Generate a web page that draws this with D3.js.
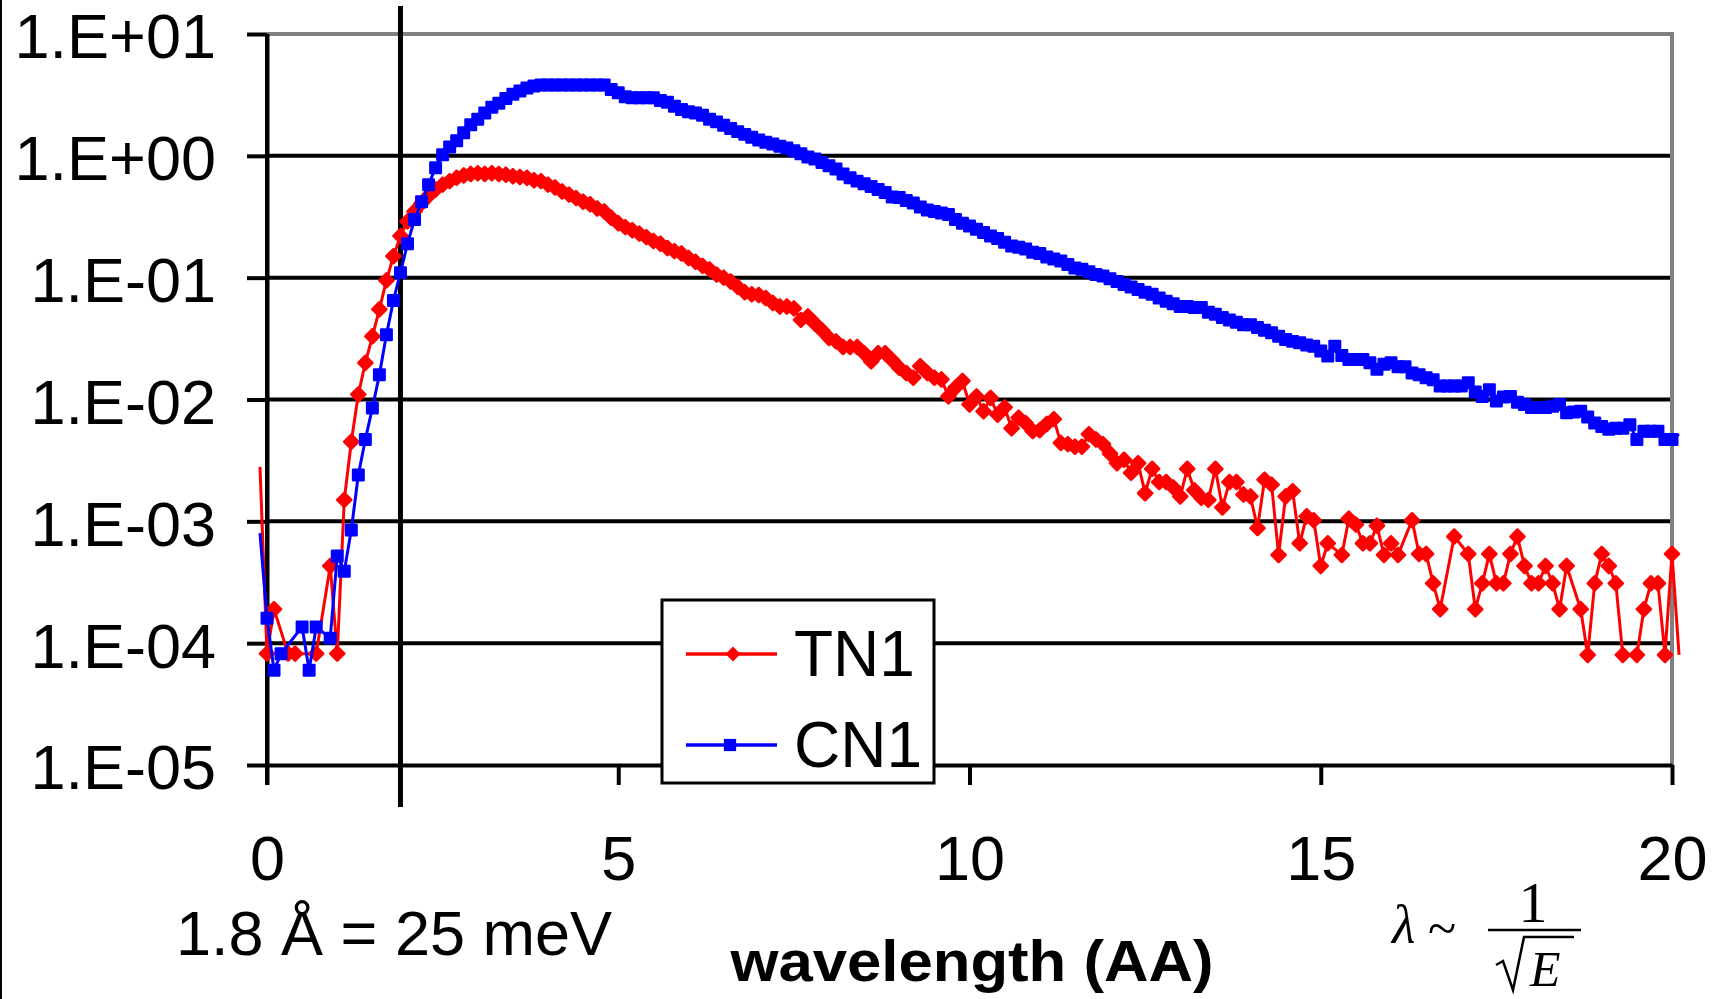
<!DOCTYPE html>
<html>
<head>
<meta charset="utf-8">
<script src="https://cdn.jsdelivr.net/npm/d3@7/dist/d3.min.js"></script>
<style>
    body { margin: 0; background: #fff; }
    svg text { font-family: "Liberation Sans", Arial, sans-serif; fill: #000; }
    .axis path, .axis line { stroke: #000; stroke-width: 4px; }
    .axis text { font-size: 63px; font-family: "Liberation Sans", Arial, sans-serif; fill: #000; }
</style>
</head>
<body>
<div class="spectrum"></div>
<script>
// wavelength bins in angstrom (one bin every 0.1)
var wavelength = [
    -0.1,
    0.0, 0.1, 0.2, 0.3, 0.4, 0.5, 0.6, 0.7, 0.8, 0.9,
    1.0, 1.1, 1.2, 1.3, 1.4, 1.5, 1.6, 1.7, 1.8, 1.9,
    2.0, 2.1, 2.2, 2.3, 2.4, 2.5, 2.6, 2.7, 2.8, 2.9,
    3.0, 3.1, 3.2, 3.3, 3.4, 3.5, 3.6, 3.7, 3.8, 3.9,
    4.0, 4.1, 4.2, 4.3, 4.4, 4.5, 4.6, 4.7, 4.8, 4.9,
    5.0, 5.1, 5.2, 5.3, 5.4, 5.5, 5.6, 5.7, 5.8, 5.9,
    6.0, 6.1, 6.2, 6.3, 6.4, 6.5, 6.6, 6.7, 6.8, 6.9,
    7.0, 7.1, 7.2, 7.3, 7.4, 7.5, 7.6, 7.7, 7.8, 7.9,
    8.0, 8.1, 8.2, 8.3, 8.4, 8.5, 8.6, 8.7, 8.8, 8.9,
    9.0, 9.1, 9.2, 9.3, 9.4, 9.5, 9.6, 9.7, 9.8, 9.9,
    10.0, 10.1, 10.2, 10.3, 10.4, 10.5, 10.6, 10.7, 10.8, 10.9,
    11.0, 11.1, 11.2, 11.3, 11.4, 11.5, 11.6, 11.7, 11.8, 11.9,
    12.0, 12.1, 12.2, 12.3, 12.4, 12.5, 12.6, 12.7, 12.8, 12.9,
    13.0, 13.1, 13.2, 13.3, 13.4, 13.5, 13.6, 13.7, 13.8, 13.9,
    14.0, 14.1, 14.2, 14.3, 14.4, 14.5, 14.6, 14.7, 14.8, 14.9,
    15.0, 15.1, 15.2, 15.3, 15.4, 15.5, 15.6, 15.7, 15.8, 15.9,
    16.0, 16.1, 16.2, 16.3, 16.4, 16.5, 16.6, 16.7, 16.8, 16.9,
    17.0, 17.1, 17.2, 17.3, 17.4, 17.5, 17.6, 17.7, 17.8, 17.9,
    18.0, 18.1, 18.2, 18.3, 18.4, 18.5, 18.6, 18.7, 18.8, 18.9,
    19.0, 19.1, 19.2, 19.3, 19.4, 19.5, 19.6, 19.7, 19.8, 19.9,
    20.0, 20.1
];

// null = empty bin (cannot be shown on a log axis, the line just jumps over it)
var tn1 = [
    2.8e-3,
    8.2e-5, 1.9e-4, null, 8.2e-5, 8.2e-5, null, null, 8.2e-5, null, 4.3e-4,
    8.2e-5, 1.5e-3, 4.5e-3, 1.1e-2, 2.0e-2, 3.3e-2, 5.5e-2, 9.5e-2, 0.15, 0.22,
    0.29, 0.35, 0.41, 0.47, 0.53, 0.58, 0.62, 0.66, 0.69, 0.71,
    0.72, 0.71, 0.72, 0.71, 0.70, 0.68, 0.67, 0.66, 0.63, 0.62,
    0.58, 0.55, 0.51, 0.48, 0.45, 0.42, 0.40, 0.37, 0.35, 0.31,
    0.28, 0.26, 0.245, 0.23, 0.215, 0.20, 0.19, 0.175, 0.165, 0.158,
    0.145, 0.135, 0.125, 0.117, 0.106, 0.100, 0.093, 0.084, 0.076, 0.073,
    0.072, 0.068, 0.062, 0.058, 0.058, 0.056, 0.045, 0.048, 0.042, 0.037,
    0.032, 0.030, 0.027, 0.027, 0.027, 0.024, 0.0206, 0.024, 0.024, 0.021,
    0.0182, 0.0165, 0.0151, 0.0188, 0.0165, 0.0151, 0.0146, 0.0106, 0.0125, 0.0142,
    0.0091, 0.0106, 0.0080, 0.0103, 0.0075, 0.0086, 0.0058, 0.0071, 0.0064, 0.0055,
    0.0056, 0.0063, 0.0069, 0.0044, 0.0043, 0.0041, 0.0041, 0.0052, 0.0047, 0.0043,
    0.0036, 0.0030, 0.0032, 0.0025, 0.0030, 0.0017, 0.0027, 0.0021, 0.0021, 0.0019,
    0.0016, 0.0027, 0.0018, 0.00156, 0.0015, 0.0027, 0.0013, 0.0021, 0.0021, 0.00166,
    0.0016, 0.00088, 0.0022, 0.0020, 0.00053, 0.0016, 0.00177, 0.00066, 0.0011, 0.00102,
    0.00043, 0.00066, null, 0.00053, 0.00105, 0.00094, 0.00066, 0.00066, 0.00092, 0.00053,
    0.00066, 0.00053, null, 0.00102, 0.00054, 0.00054, 0.00031, 0.00019, null, 0.00075,
    null, 0.00054, 0.00019, 0.00031, 0.00054, 0.00031, 0.00031, 0.00054, 0.00075, 0.00043,
    0.00031, 0.00031, 0.00043, 0.00031, 0.00019, 0.00043, null, 0.00019, 8.0e-5, 0.00031,
    0.00054, 0.00043, 0.00031, 8.0e-5, null, 8.0e-5, 0.00019, 0.00031, 0.00031, 8.0e-5,
    0.00054, 8.0e-5
];

var cn1 = [
    8.0e-4,
    1.6e-4, 6.0e-5, 8.2e-5, null, null, 1.36e-4, 6.0e-5, 1.36e-4, null, 1.1e-4,
    5.2e-4, 3.9e-4, 8.5e-4, 2.4e-3, 4.7e-3, 8.5e-3, 1.6e-2, 3.4e-2, 6.5e-2, 0.11,
    0.19, 0.30, 0.42, 0.58, 0.80, 1.02, 1.18, 1.33, 1.55, 1.80,
    2.00, 2.25, 2.50, 2.70, 2.95, 3.20, 3.40, 3.60, 3.75, 3.81,
    3.81, 3.81, 3.81, 3.81, 3.81, 3.81, 3.81, 3.81, 3.81, 3.50,
    3.30, 3.05, 3.00, 3.00, 3.00, 3.00, 2.85, 2.75, 2.55, 2.40,
    2.30, 2.25, 2.15, 2.00, 1.90, 1.78, 1.68, 1.58, 1.50, 1.42,
    1.35, 1.29, 1.25, 1.20, 1.16, 1.10, 1.04, 0.98, 0.94, 0.88,
    0.83, 0.78, 0.71, 0.66, 0.62, 0.59, 0.56, 0.53, 0.50, 0.46,
    0.455, 0.43, 0.41, 0.38, 0.36, 0.35, 0.34, 0.33, 0.30, 0.28,
    0.265, 0.25, 0.235, 0.22, 0.21, 0.195, 0.182, 0.178, 0.172, 0.162,
    0.158, 0.148, 0.142, 0.137, 0.128, 0.120, 0.117, 0.112, 0.106, 0.103,
    0.098, 0.093, 0.088, 0.084, 0.080, 0.076, 0.073, 0.068, 0.064, 0.061,
    0.058, 0.058, 0.057, 0.057, 0.052, 0.050, 0.047, 0.045, 0.043, 0.041,
    0.041, 0.039, 0.037, 0.0353, 0.033, 0.0311, 0.030, 0.0292, 0.028, 0.0274,
    0.025, 0.0227, 0.0274, 0.023, 0.0213, 0.0213, 0.0213, 0.020, 0.0177, 0.0195,
    0.020, 0.0186, 0.0186, 0.0165, 0.016, 0.0151, 0.0145, 0.0129, 0.0129, 0.0129,
    0.0129, 0.0137, 0.0115, 0.0106, 0.012, 0.0097, 0.0105, 0.0106, 0.0095, 0.0091,
    0.0086, 0.0086, 0.0086, 0.0088, 0.0091, 0.0078, 0.0079, 0.0080, 0.0072, 0.0064,
    0.0060, 0.0057, 0.0058, 0.0058, 0.0062, 0.0047, 0.0055, 0.0055, 0.0055, 0.0047,
    0.0047, 0.0052
];

var seriesNames = ["TN1", "CN1"];
var seriesColors = ["#ff0000", "#0000ff"];
var xTicks = [0, 5, 10, 15, 20];
var yTicks = [1e-5, 1e-4, 1e-3, 1e-2, 1e-1, 1e0, 1e1];
var yTickLabels = ["1.E-05", "1.E-04", "1.E-03", "1.E-02", "1.E-01", "1.E+00", "1.E+01"];
var refWavelength = 1.9;
var refLabel = "1.8 \u00C5 = 25 meV";
var xTitle = "wavelength (AA)";

var width = 1723, height = 999;
var plot = {left: 267, right: 1672, top: 34, bottom: 765};

var svg = d3.select("div.spectrum").append("svg")
    .attr("width", width)
    .attr("height", height);

svg.append("rect").attr("width", width).attr("height", height).attr("fill", "#fff");
// thin dark edge on the left of the original picture
svg.append("rect").attr("x", 0).attr("y", 0).attr("width", 2).attr("height", height).attr("fill", "#000");

var x = d3.scaleLinear().domain([0, 20]).range([plot.left, plot.right]);
var y = d3.scaleLog().domain([1e-5, 10]).range([plot.bottom, plot.top]);

// horizontal gridlines (the top one is the grey frame)
svg.append("g").selectAll("line.grid")
    .data(yTicks.slice(1, -1))
    .enter().append("line")
    .attr("class", "grid")
    .attr("x1", plot.left).attr("x2", plot.right)
    .attr("y1", d => y(d)).attr("y2", d => y(d))
    .attr("stroke", "#000").attr("stroke-width", 4);

svg.append("path")
    .attr("d", "M" + plot.left + "," + y(10) + "H" + plot.right + "V" + plot.bottom)
    .attr("fill", "none").attr("stroke", "#808080").attr("stroke-width", 4);

svg.append("g")
    .attr("class", "axis x")
    .attr("transform", "translate(0," + plot.bottom + ")")
    .call(d3.axisBottom(x).tickValues(xTicks).tickSize(20).tickSizeOuter(0).tickPadding(50));

svg.append("g")
    .attr("class", "axis y")
    .attr("transform", "translate(" + plot.left + ",0)")
    .call(d3.axisLeft(y).tickValues(yTicks).tickFormat((d, i) => yTickLabels[i])
        .tickSize(20).tickSizeOuter(0).tickPadding(31));

svg.selectAll(".axis text").attr("font-size", 63);
svg.selectAll(".axis.y text").attr("dy", "0.38em");
// left axis runs down to the x tick at 0
svg.append("line")
    .attr("x1", x(0)).attr("x2", x(0))
    .attr("y1", y(10)).attr("y2", plot.bottom + 20)
    .attr("stroke", "#000").attr("stroke-width", 4);

// reference line at 1.8 A
svg.append("line")
    .attr("x1", x(refWavelength)).attr("x2", x(refWavelength))
    .attr("y1", 6).attr("y2", 807)
    .attr("stroke", "#000").attr("stroke-width", 5);

var line = d3.line().x(d => x(d.w)).y(d => y(d.v));

var series = [tn1, cn1].map((vals, i) => ({
    name: seriesNames[i],
    color: seriesColors[i],
    points: wavelength.map((w, k) => ({w: w, v: vals[k]})).filter(p => p.v != null)
}));

// excel style markers: filled shape with an outline of the same colour
var diamond = d3.symbol().type(d3.symbolSquare).size(100);
var square = d3.symbol().type(d3.symbolSquare).size(110);

series.forEach((s, i) => {
    let g = svg.append("g").attr("class", "metric");
    g.append("path")
        .attr("d", line(s.points))
        .attr("fill", "none")
        .attr("stroke", s.color)
        .attr("stroke-width", 3)
        .attr("stroke-linejoin", "round");
    g.selectAll("path.mark")
        .data(s.points.filter(p => p.w >= 0 && p.w <= 20))
        .enter().append("path")
        .attr("class", "mark")
        .attr("d", i == 0 ? diamond() : square())
        .attr("transform", p => "translate(" + x(p.w) + "," + y(p.v) + ")" + (i == 0 ? " rotate(45)" : ""))
        .attr("fill", s.color)
        .attr("stroke", s.color)
        .attr("stroke-width", 2.5)
        .attr("stroke-linejoin", "round");
});

// legend
var legend = svg.append("g").attr("class", "legend");
legend.append("rect")
    .attr("x", 662).attr("y", 600).attr("width", 272).attr("height", 183)
    .attr("fill", "#fff").attr("stroke", "#000").attr("stroke-width", 3);

series.forEach((s, i) => {
    let ly = 654 + i * 91;
    legend.append("line")
        .attr("x1", 686).attr("x2", 777).attr("y1", ly).attr("y2", ly)
        .attr("stroke", s.color).attr("stroke-width", 3.5);
    legend.append("path")
        .attr("d", i == 0 ? d3.symbol().type(d3.symbolSquare).size(112)() : d3.symbol().type(d3.symbolSquare).size(150)())
        .attr("transform", "translate(" + (i == 0 ? 733 : 730) + "," + ly + ")" + (i == 0 ? " rotate(45)" : ""))
        .attr("fill", s.color);
    legend.append("text")
        .attr("x", 794).attr("y", ly + 22)
        .attr("font-size", 64)
        .text(s.name);
});

// texts under the axis
svg.append("text")
    .attr("x", 176).attr("y", 955)
    .attr("font-size", 63)
    .text(refLabel);

svg.append("text")
    .attr("x", 972).attr("y", 981)
    .attr("text-anchor", "middle")
    .attr("font-size", 57).attr("font-weight", "bold")
    .attr("textLength", 483).attr("lengthAdjust", "spacingAndGlyphs")
    .text(xTitle);

// lambda ~ 1 / sqrt(E)
var serif = "'Liberation Serif', 'Times New Roman', serif";
var formula = svg.append("g").attr("class", "formula");
formula.append("text")
    .attr("x", 1392).attr("y", 943)
    .attr("font-size", 54).attr("font-style", "italic")
    .style("font-family", serif)
    .text("\u03BB");
formula.append("text")
    .attr("x", 1428).attr("y", 946)
    .attr("font-size", 52)
    .style("font-family", serif)
    .text("~");
formula.append("text")
    .attr("x", 1533).attr("y", 922)
    .attr("text-anchor", "middle")
    .attr("font-size", 58)
    .style("font-family", serif)
    .text("1");
formula.append("line")
    .attr("x1", 1488).attr("x2", 1581).attr("y1", 930).attr("y2", 930)
    .attr("stroke", "#000").attr("stroke-width", 2.5);
formula.append("path")
    .attr("d", "M1496,965 L1503,961 L1513,990 L1524,937 L1574,937")
    .attr("fill", "none").attr("stroke", "#000").attr("stroke-width", 2.5)
    .attr("stroke-linejoin", "miter");
formula.append("text")
    .attr("x", 1530).attr("y", 986)
    .attr("font-size", 50).attr("font-style", "italic")
    .style("font-family", serif)
    .text("E");
</script>
</body>
</html>
